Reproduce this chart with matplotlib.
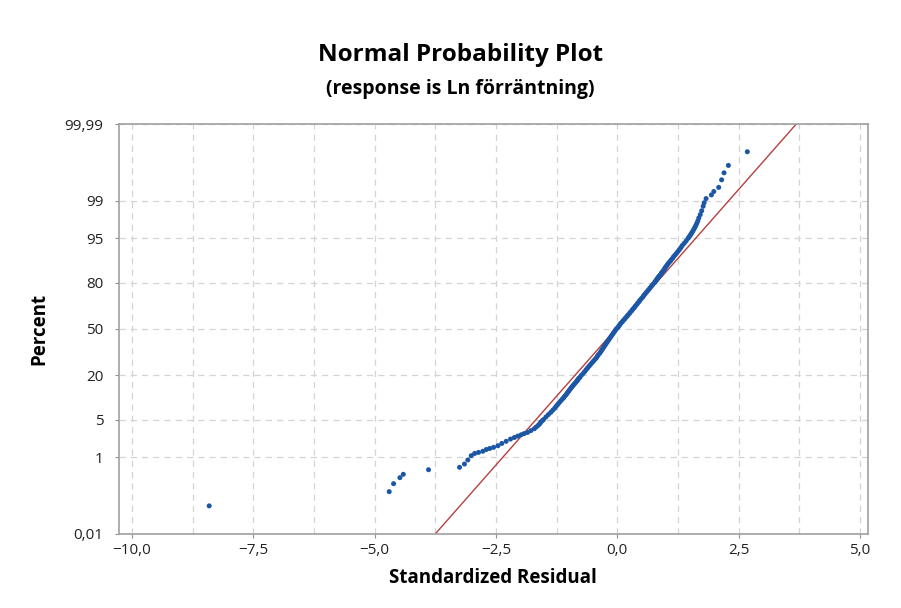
import matplotlib
matplotlib.use("Agg")
import matplotlib.pyplot as plt
from matplotlib.ticker import MultipleLocator, FuncFormatter, FixedLocator
from statistics import NormalDist
import numpy as np

plt.rcParams['font.family'] = ['Open Sans', 'DejaVu Sans']

# standardized residuals and their plotted percent
# lower tail, separate points
tail_lo_x = [-8.41, -4.70, -4.61, -4.48, -4.41, -3.89,
             -3.25, -3.15, -3.08, -3.01, -2.94, -2.86, -2.77, -2.70, -2.63, -2.55,
             -2.46, -2.38, -2.29, -2.20, -2.12, -2.05, -1.98, -1.92, -1.85]
tail_lo_p = [0.066, 0.157, 0.249, 0.347, 0.416, 0.53,
             0.60, 0.71, 0.87, 1.07, 1.19, 1.25, 1.32, 1.43, 1.50, 1.58,
             1.70, 1.88, 2.07, 2.28, 2.44, 2.59, 2.74, 2.87, 3.01]

# dense middle part
mid_x = [-1.78, -1.71, -1.67, -1.63, -1.60, -1.58, -1.55, -1.52, -1.47, -1.42,
         -1.37, -1.33, -1.29, -1.26, -1.23, -1.20, -1.17, -1.14, -1.11, -1.09,
         -1.06, -1.04, -1.02, -1.00, -0.98, -0.96, -0.94, -0.92, -0.90, -0.88,
         -0.86, -0.84, -0.82, -0.81, -0.79, -0.77, -0.74, -0.70, -0.67, -0.64,
         -0.61, -0.58, -0.55, -0.52, -0.49, -0.46, -0.43, -0.41, -0.39, -0.36,
         -0.34, -0.32, -0.30, -0.28, -0.26, -0.24, -0.22, -0.20, -0.18, -0.16,
         -0.14, -0.12, -0.10, -0.08, -0.06, -0.04, -0.02, 0.01, 0.03, 0.05,
         0.07, 0.10, 0.12, 0.15, 0.17, 0.20, 0.22, 0.25, 0.27, 0.30,
         0.32, 0.35, 0.37, 0.40, 0.42, 0.45, 0.47, 0.50, 0.53, 0.55,
         0.58, 0.61, 0.64, 0.67, 0.70, 0.73, 0.77, 0.78, 0.80, 0.81,
         0.83, 0.84, 0.86, 0.88, 0.90, 0.91, 0.93, 0.95, 0.97, 0.98,
         1.00, 1.02, 1.04, 1.06, 1.09, 1.11, 1.14, 1.16, 1.19, 1.22,
         1.25, 1.28, 1.31, 1.34, 1.38, 1.42, 1.46, 1.48, 1.50, 1.52,
         1.54, 1.56, 1.58, 1.60, 1.62, 1.64, 1.66]
mid_p = [3.25, 3.5, 3.75, 4, 4.25, 4.5, 4.75, 5, 5.5, 6,
         6.5, 7, 7.5, 8, 8.5, 9, 9.5, 10, 10.5, 11,
         11.5, 12, 12.5, 13, 13.5, 14, 14.5, 15, 15.5, 16,
         16.5, 17, 17.5, 18, 18.5, 19, 20, 21, 22, 23,
         24, 25, 26, 27, 28, 29, 30, 31, 32, 33,
         34, 35, 36, 37, 38, 39, 40, 41, 42, 43,
         44, 45, 46, 47, 48, 49, 50, 51, 52, 53,
         54, 55, 56, 57, 58, 59, 60, 61, 62, 63,
         64, 65, 66, 67, 68, 69, 70, 71, 72, 73,
         74, 75, 76, 77, 78, 79, 80, 80.5, 81, 81.5,
         82, 82.5, 83, 83.5, 84, 84.5, 85, 85.5, 86, 86.5,
         87, 87.5, 88, 88.5, 89, 89.5, 90, 90.5, 91, 91.5,
         92, 92.5, 93, 93.5, 94, 94.5, 95, 95.25, 95.5, 95.75,
         96, 96.25, 96.5, 96.75, 97, 97.25, 97.5]

# upper tail
tail_hi_x = [1.68, 1.71, 1.74, 1.77, 1.79, 1.83, 1.94, 1.99, 2.09, 2.15, 2.20, 2.29, 2.68]
tail_hi_p = [97.8, 98.1, 98.4, 98.7, 98.9, 99.1, 99.25, 99.37, 99.49, 99.66, 99.77, 99.85, 99.935]

# fitted normal line
fit_mean = -0.03
fit_sd = 1.0
line_x = [-4.0, 4.0]

y_ticks = [0.01, 1, 5, 20, 50, 80, 95, 99, 99.99]
y_labels = ["0,01", "1", "5", "20", "50", "80", "95", "99", "99,99"]

nd = NormalDist()
_ppf = np.vectorize(lambda p: nd.inv_cdf(min(max(p / 100.0, 1e-9), 1 - 1e-9)), otypes=[float])
_cdf = np.vectorize(lambda z: nd.cdf(z) * 100.0, otypes=[float])


def fwd(p):
    return _ppf(np.asarray(p, dtype=float))


def inv(z):
    return _cdf(np.asarray(z, dtype=float))


fig = plt.figure(figsize=(9.01, 6.08), dpi=100)
ax = fig.add_axes([0.132, 0.122, 0.831, 0.674])
ax.set_yscale('function', functions=(fwd, inv))

fit = NormalDist(fit_mean, fit_sd)
line_y = [fit.cdf(v) * 100 for v in line_x]
ax.plot(line_x, line_y, color='#b5403f', lw=1.0, zorder=2)

resid = tail_lo_x + mid_x + tail_hi_x
percent = tail_lo_p + mid_p + tail_hi_p
ax.scatter(resid, percent, s=13, color='#1c57a5', edgecolors='none', zorder=3)

ax.set_xlim(-10.27, 5.16)
ax.set_ylim(0.01, 99.99)

ax.xaxis.set_major_locator(MultipleLocator(2.5))
ax.xaxis.set_minor_locator(MultipleLocator(1.25))
ax.xaxis.set_major_formatter(FuncFormatter(lambda v, p: f"{v:.1f}".replace('.', ',').replace('-', '\u2212')))
ax.yaxis.set_major_locator(FixedLocator(y_ticks))
ax.yaxis.set_minor_locator(FixedLocator([]))
ax.set_yticklabels(y_labels)

ax.grid(True, which='both', color='#d4d4d4', linestyle=(0, (5, 4)), lw=0.9, zorder=0)
ax.tick_params(axis='both', which='major', length=3, color='#909090', labelsize=11,
               labelcolor='#222222')
ax.tick_params(axis='x', which='minor', length=0)
ax.tick_params(axis='y', pad=8)
for s in ax.spines.values():
    s.set_color('#a0a0a0')
    s.set_linewidth(1.2)

ax.set_xlabel("Standardized Residual", fontsize=13.5, fontweight='bold', labelpad=7)
ax.set_ylabel("Percent", fontsize=13.5, fontweight='bold', labelpad=11)

fig.text(0.511, 0.909, "Normal Probability Plot", ha='center', va='center',
         fontsize=17.5, fontweight='bold')
fig.text(0.511, 0.853, "(response is Ln förräntning)", ha='center', va='center',
         fontsize=14, fontweight='bold')

fig.savefig("out.png", dpi=100)
